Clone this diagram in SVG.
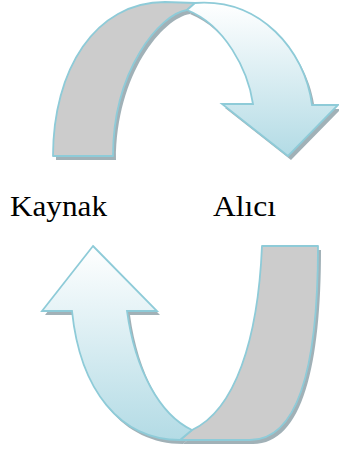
<svg xmlns="http://www.w3.org/2000/svg" width="339" height="451" viewBox="0 0 339 451">
<defs>
<linearGradient id="gTop" x1="0" y1="0" x2="0" y2="1">
<stop offset="0" stop-color="#ffffff"/>
<stop offset="1" stop-color="#b3dbe5"/>
</linearGradient>
<linearGradient id="gBot" x1="0" y1="0" x2="0" y2="1">
<stop offset="0" stop-color="#ffffff"/>
<stop offset="1" stop-color="#b3dbe5"/>
</linearGradient>
<style>
.gray{fill:#cccccc;stroke:#8ecbd8;stroke-width:1.8;stroke-linejoin:round}
.lightT{fill:url(#gTop);stroke:#8ecbd8;stroke-width:1.8;stroke-linejoin:miter}
.lightB{fill:url(#gBot);stroke:#8ecbd8;stroke-width:1.8;stroke-linejoin:miter}
.shadow{fill:#8a9ea6;opacity:0.8}
</style>
</defs>
<g id="connectors">
<g id="top-arrow">
<g transform="translate(3,4)" class="shadow">
<path d="M53,156 C53,70 95,2 165,2 L195,3 L187,10 C160,14 113,70 113,156 Z"/>
<path d="M187,10 C225,25 248,70 253,104 L222,104 L288,156 L338,105 L312,105 C305,50 260,-2 195,3 Z"/>
</g>
<path class="gray" d="M53,156 C53,70 95,2 165,2 L195,3 L187,10 C160,14 113,70 113,156 Z"/>
<path class="lightT" d="M187,10 C225,25 248,70 253,104 L222,104 L288,156 L338,105 L312,105 C305,50 260,-2 195,3 Z"/>
</g>
<g id="bottom-arrow">
<g transform="translate(3,4)" class="shadow">
<path d="M262,246 L318,246 C318,360 300,440 250,440 L180,440 L192,430 C235,410 258,340 262,246 Z"/>
<path d="M93,246 L157,311 L127,311 C135,370 160,415 192,430 L180,440 C120,440 80,390 72,311 L42,311 Z"/>
</g>
<path class="gray" d="M262,246 L318,246 C318,360 300,440 250,440 L180,440 L192,430 C235,410 258,340 262,246 Z"/>
<path class="lightB" d="M93,246 L157,311 L127,311 C135,370 160,415 192,430 L180,440 C120,440 80,390 72,311 L42,311 Z"/>
</g>
</g>
<g id="label-kaynak"><text x="10" y="216" font-family="Times New Roman, Liberation Serif, DejaVu Serif, serif" font-size="30" textLength="97" lengthAdjust="spacingAndGlyphs" fill="#000">Kaynak</text></g>
<g id="label-alici"><text x="213" y="216" font-family="Times New Roman, Liberation Serif, DejaVu Serif, serif" font-size="30" textLength="63" lengthAdjust="spacingAndGlyphs" fill="#000">Alıcı</text></g>
</svg>
